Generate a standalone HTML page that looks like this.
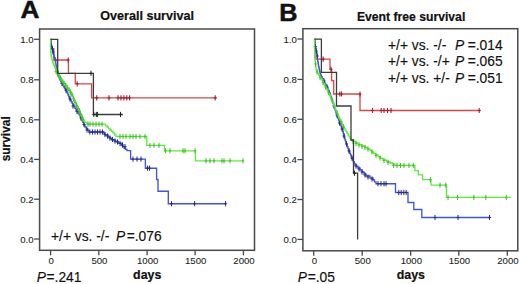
<!DOCTYPE html>
<html><head><meta charset="utf-8"><style>
html,body{margin:0;padding:0;background:#fff;width:520px;height:284px;overflow:hidden}
svg{display:block}
text{font-family:"Liberation Sans",sans-serif;fill:#111}
.big{font-size:24.5px;font-weight:bold;stroke:#111;stroke-width:0.5px}
.ttl2{font-size:12.2px;font-weight:bold;stroke:#111;stroke-width:0.2px}
.ax2{font-size:11.9px;font-weight:bold;stroke:#111;stroke-width:0.2px}
.ttl{font-size:12.6px;font-weight:bold;stroke:#111;stroke-width:0.2px}
.ax{font-size:12.4px;font-weight:bold;stroke:#111;stroke-width:0.2px}
.tk{font-size:9.6px;fill:#1a1a1a;stroke:#1a1a1a;stroke-width:0.08px}
.st{font-size:13.8px;stroke:#111;stroke-width:0.15px}
.st2{font-size:13.5px}
</style></head><body>
<svg width="520" height="284" viewBox="0 0 520 284">
<rect x="39.6" y="29.0" width="214.9" height="221.3" fill="none" stroke="#4a4a4a" stroke-width="1.5"/>
<path d="M34.1,39.3H39.6" stroke="#4a4a4a" stroke-width="1.3"/>
<text x="33.5" y="42.9" class="tk" text-anchor="end">1.0</text>
<path d="M34.1,79.8H39.6" stroke="#4a4a4a" stroke-width="1.3"/>
<text x="33.5" y="83.4" class="tk" text-anchor="end">0.8</text>
<path d="M34.1,119.8H39.6" stroke="#4a4a4a" stroke-width="1.3"/>
<text x="33.5" y="123.4" class="tk" text-anchor="end">0.6</text>
<path d="M34.1,159.4H39.6" stroke="#4a4a4a" stroke-width="1.3"/>
<text x="33.5" y="163.0" class="tk" text-anchor="end">0.4</text>
<path d="M34.1,199.2H39.6" stroke="#4a4a4a" stroke-width="1.3"/>
<text x="33.5" y="202.8" class="tk" text-anchor="end">0.2</text>
<path d="M34.1,239.0H39.6" stroke="#4a4a4a" stroke-width="1.3"/>
<text x="33.5" y="242.6" class="tk" text-anchor="end">0.0</text>
<path d="M50.6,250.3V255.3" stroke="#4a4a4a" stroke-width="1.3"/>
<text x="51.2" y="263.6" class="tk" text-anchor="middle">0</text>
<path d="M98.8,250.3V255.3" stroke="#4a4a4a" stroke-width="1.3"/>
<text x="99.4" y="263.6" class="tk" text-anchor="middle">500</text>
<path d="M147.1,250.3V255.3" stroke="#4a4a4a" stroke-width="1.3"/>
<text x="147.7" y="263.6" class="tk" text-anchor="middle">1000</text>
<path d="M195.1,250.3V255.3" stroke="#4a4a4a" stroke-width="1.3"/>
<text x="195.7" y="263.6" class="tk" text-anchor="middle">1500</text>
<path d="M243.4,250.3V255.3" stroke="#4a4a4a" stroke-width="1.3"/>
<text x="244.0" y="263.6" class="tk" text-anchor="middle">2000</text>
<rect x="302.9" y="28.7" width="214.9" height="222.1" fill="none" stroke="#4a4a4a" stroke-width="1.5"/>
<path d="M297.4,39.0H302.9" stroke="#4a4a4a" stroke-width="1.3"/>
<text x="296.8" y="42.6" class="tk" text-anchor="end">1.0</text>
<path d="M297.4,79.4H302.9" stroke="#4a4a4a" stroke-width="1.3"/>
<text x="296.8" y="83.0" class="tk" text-anchor="end">0.8</text>
<path d="M297.4,119.3H302.9" stroke="#4a4a4a" stroke-width="1.3"/>
<text x="296.8" y="122.9" class="tk" text-anchor="end">0.6</text>
<path d="M297.4,159.6H302.9" stroke="#4a4a4a" stroke-width="1.3"/>
<text x="296.8" y="163.2" class="tk" text-anchor="end">0.4</text>
<path d="M297.4,199.5H302.9" stroke="#4a4a4a" stroke-width="1.3"/>
<text x="296.8" y="203.1" class="tk" text-anchor="end">0.2</text>
<path d="M297.4,239.4H302.9" stroke="#4a4a4a" stroke-width="1.3"/>
<text x="296.8" y="243.0" class="tk" text-anchor="end">0.0</text>
<path d="M313.7,250.8V255.8" stroke="#4a4a4a" stroke-width="1.3"/>
<text x="314.3" y="264.1" class="tk" text-anchor="middle">0</text>
<path d="M362.2,250.8V255.8" stroke="#4a4a4a" stroke-width="1.3"/>
<text x="362.8" y="264.1" class="tk" text-anchor="middle">500</text>
<path d="M410.7,250.8V255.8" stroke="#4a4a4a" stroke-width="1.3"/>
<text x="411.3" y="264.1" class="tk" text-anchor="middle">1000</text>
<path d="M458.8,250.8V255.8" stroke="#4a4a4a" stroke-width="1.3"/>
<text x="459.4" y="264.1" class="tk" text-anchor="middle">1500</text>
<path d="M507.3,250.8V255.8" stroke="#4a4a4a" stroke-width="1.3"/>
<text x="507.9" y="264.1" class="tk" text-anchor="middle">2000</text>
<path d="M50.5,39.3 H51.2 V49 H53.8 V60 H68.4 V73.3 H75.3 V83.8 H91.6 V97.9 H216.8" stroke="#dc4646" stroke-width="1.3" fill="none"/>
<path d="M55.5,57.4V62.6M54.1,60.0H56.9M68.2,57.4V62.6M66.8,60.0H69.6M77.2,81.2V86.4M75.8,83.8H78.6M96.7,95.3V100.5M95.3,97.9H98.1M109.0,95.3V100.5M107.6,97.9H110.4M118.0,95.3V100.5M116.6,97.9H119.4M121.0,95.3V100.5M119.6,97.9H122.4M123.9,95.3V100.5M122.5,97.9H125.3M126.8,95.3V100.5M125.4,97.9H128.2M129.6,95.3V100.5M128.2,97.9H131.0M215.2,95.3V100.5M213.8,97.9H216.6" stroke="#a82030" stroke-width="1.1" fill="none"/>
<path d="M50.5,39.3 H50.7 V40.9 H50.8 V42.4 H51.0 V44.0 H51.4 V45.5 H51.8 V47.0 H52.1 V48.5 H52.5 V50.0 H52.9 V51.5 H53.2 V53.0 H53.6 V54.5 H54.0 V56.0 H54.4 V57.5 H54.8 V59.0 H55.1 V60.5 H55.5 V62.0 H55.8 V63.5 H56.0 V65.0 H56.2 V66.5 H56.5 V68.0 H56.9 V69.5 H57.2 V71.0 H57.6 V72.5 H58.0 V74.0 H58.5 V75.5 H59.0 V77.0 H59.5 V78.5 H60.0 V80.0 H60.8 V81.7 H61.7 V83.3 H62.5 V85.0 H63.5 V86.7 H64.5 V88.3 H65.5 V90.0 H66.3 V91.7 H67.2 V93.3 H68.0 V95.0 H68.8 V96.7 H69.5 V98.3 H70.3 V100.0 H71.2 V101.7 H72.1 V103.3 H73.0 V105.0 H74.0 V106.7 H75.0 V108.3 H76.0 V110.0 H77.0 V111.5 H78.0 V113.0 H79.0 V114.5 H80.0 V116.0 H80.7 V117.6 H81.4 V119.1 H82.1 V120.7 H82.9 V122.3 H83.6 V123.9 H84.3 V125.4 H85.0 V127.0 H86.3 V128.7 H87.7 V130.3 H89.0 V132.0 H103 H104.0 V133.5 H105.0 V135.0 H108.0 V137.0 H110.0 V138.5 H112.0 V140.0 H115.0 V141.5 H118.0 V143.0 H121.0 V145.0 H122.5 V146.5 H124.0 V148.0 H125.5 V149.3 H127.0 V150.6 H130.6 V159.1 H145.4 V168.2 H156.6 V179.5 H158 V191.2 H168.3 V203.7 H226" stroke="#4256d6" stroke-width="1.35" fill="none"/>
<path d="M51.5,43.9V49.1M50.0,46.5H53.0M52.5,46.4V51.6M51.0,49.0H54.0M89.8,129.4V134.6M88.3,132.0H91.3M92.5,129.4V134.6M91.0,132.0H94.0M95.0,129.4V134.6M93.5,132.0H96.5M97.5,129.4V134.6M96.0,132.0H99.0M100.0,129.4V134.6M98.5,132.0H101.5M102.5,129.4V134.6M101.0,132.0H104.0M105.0,131.9V137.1M103.5,134.5H106.5M107.5,133.4V138.6M106.0,136.0H109.0M110.0,135.4V140.6M108.5,138.0H111.5M112.5,136.9V142.1M111.0,139.5H114.0M115.0,138.4V143.6M113.5,141.0H116.5M117.5,139.4V144.6M116.0,142.0H119.0M120.0,140.9V146.1M118.5,143.5H121.5M122.5,142.4V147.6M121.0,145.0H124.0M125.0,143.9V149.1M123.5,146.5H126.5M133.0,156.5V161.7M131.5,159.1H134.5M137.0,156.5V161.7M135.5,159.1H138.5M141.0,156.5V161.7M139.5,159.1H142.5M147.5,165.6V170.8M146.0,168.2H149.0M149.5,165.6V170.8M148.0,168.2H151.0M171.5,201.1V206.3M170.0,203.7H173.0M194.6,201.1V206.3M193.1,203.7H196.1M225.6,201.1V206.3M224.1,203.7H227.1M53.0,49.4V54.6M51.5,52.0H54.5M57.5,69.4V74.6M56.0,72.0H59.0M62.0,80.9V86.1M60.5,83.5H63.5M66.0,87.4V92.6M64.5,90.0H67.5M70.0,96.4V101.6M68.5,99.0H71.5M73.0,103.4V108.6M71.5,106.0H74.5M77.0,108.9V114.1M75.5,111.5H78.5M81.0,115.4V120.6M79.5,118.0H82.5M84.0,121.9V127.1M82.5,124.5H85.5M87.0,127.4V132.6M85.5,130.0H88.5" stroke="#262a8a" stroke-width="1.0" fill="none"/>
<path d="M50.5,39.3 L50.5,48.0 H50.6 V49.8 H50.8 V51.5 H50.9 V53.2 H51.0 V55.0 H51.4 V56.8 H51.8 V58.5 H52.1 V60.2 H52.5 V62.0 H53.1 V63.5 H53.8 V65.0 H54.4 V66.5 H55.0 V68.0 H55.8 V70.0 H56.5 V72.0 H57.8 V74.0 H59.0 V76.0 H60.1 V78.0 H61.3 V80.0 H62.9 V82.0 H64.5 V84.0 H66.0 V86.0 H67.5 V88.0 H69.0 V90.0 H70.5 V92.0 H71.5 V94.0 H72.5 V96.0 H73.2 V98.0 H74.0 V100.0 H74.8 V101.7 H75.7 V103.3 H76.5 V105.0 H77.3 V106.7 H78.2 V108.3 H79.0 V110.0 H79.7 V111.7 H80.3 V113.3 H81.0 V115.0 H81.7 V116.7 H82.3 V118.3 H83.0 V120.0 H84.0 V121.2 H85.0 V122.5 H87.0 V124.2 H104 H105.5 V125.6 H107.0 V127.0 H108.5 V128.5 H110.0 V130.0 H111.5 V131.5 H113.0 V133.0 H114.5 V134.8 H116.0 V136.5 H146.8 V145.4 H164.4 V150.8 H195.5 V160.8 H243" stroke="#5cec3c" stroke-width="1.3" fill="none"/>
<path d="M88.0,121.6V126.8M86.8,124.2H89.2M90.0,121.6V126.8M88.8,124.2H91.2M93.0,121.6V126.8M91.8,124.2H94.2M96.0,121.6V126.8M94.8,124.2H97.2M99.0,121.6V126.8M97.8,124.2H100.2M102.0,121.6V126.8M100.8,124.2H103.2M120.0,133.9V139.1M118.8,136.5H121.2M123.0,133.9V139.1M121.8,136.5H124.2M126.0,133.9V139.1M124.8,136.5H127.2M130.0,133.9V139.1M128.8,136.5H131.2M133.0,133.9V139.1M131.8,136.5H134.2M136.0,133.9V139.1M134.8,136.5H137.2M140.0,133.9V139.1M138.8,136.5H141.2M145.0,133.9V139.1M143.8,136.5H146.2M150.0,142.8V148.0M148.8,145.4H151.2M154.0,142.8V148.0M152.8,145.4H155.2M159.0,142.8V148.0M157.8,145.4H160.2M165.5,148.2V153.4M164.3,150.8H166.7M170.0,148.2V153.4M168.8,150.8H171.2M183.0,148.2V153.4M181.8,150.8H184.2M185.0,148.2V153.4M183.8,150.8H186.2M195.0,148.2V153.4M193.8,150.8H196.2M206.0,158.2V163.4M204.8,160.8H207.2M210.0,158.2V163.4M208.8,160.8H211.2M214.0,158.2V163.4M212.8,160.8H215.2M222.0,158.2V163.4M220.8,160.8H223.2M224.0,158.2V163.4M222.8,160.8H225.2M230.0,158.2V163.4M228.8,160.8H231.2M243.0,158.2V163.4M241.8,160.8H244.2M56.0,68.9V74.1M54.8,71.5H57.2M57.5,71.4V76.6M56.3,74.0H58.7M59.0,73.4V78.6M57.8,76.0H60.2M60.5,75.9V81.1M59.3,78.5H61.7M62.0,78.4V83.6M60.8,81.0H63.2M63.8,80.9V86.1M62.6,83.5H65.0M65.5,82.9V88.1M64.3,85.5H66.7M67.3,85.4V90.6M66.1,88.0H68.5M69.0,87.9V93.1M67.8,90.5H70.2M70.6,90.4V95.6M69.4,93.0H71.8M72.0,92.4V97.6M70.8,95.0H73.2M73.5,96.4V101.6M72.3,99.0H74.7M75.0,99.9V105.1M73.8,102.5H76.2M76.5,102.9V108.1M75.3,105.5H77.7M78.0,105.9V111.1M76.8,108.5H79.2M79.3,108.4V113.6M78.1,111.0H80.5M80.5,111.4V116.6M79.3,114.0H81.7M82.0,114.4V119.6M80.8,117.0H83.2M83.0,116.9V122.1M81.8,119.5H84.2" stroke="#46c02c" stroke-width="1.0" fill="none"/>
<path d="M50.5,39.3 H57.7 V73.3 H93.4 V114.5 H122.9" stroke="#3c3c3c" stroke-width="1.3" fill="none"/>
<path d="M91.0,70.7V75.9M89.6,73.3H92.4M93.8,111.9V117.1M92.4,114.5H95.2M96.3,111.9V117.1M94.9,114.5H97.7M97.4,111.9V117.1M96.0,114.5H98.8M120.5,111.9V117.1M119.1,114.5H121.9" stroke="#222222" stroke-width="1.0" fill="none"/>
<path d="M314.5,39.2 H315 V59.1 H330 V69.4 H331.6 V80.6 H333.7 V94 H360 V110.5 H480.6" stroke="#dc4646" stroke-width="1.3" fill="none"/>
<path d="M323.2,56.5V61.7M321.8,59.1H324.6M331.0,66.8V72.0M329.6,69.4H332.4M339.9,91.4V96.6M338.5,94.0H341.3M341.5,91.4V96.6M340.1,94.0H342.9M360.0,91.4V96.6M358.6,94.0H361.4M372.5,107.9V113.1M371.1,110.5H373.9M381.2,107.9V113.1M379.8,110.5H382.6M384.0,107.9V113.1M382.6,110.5H385.4M387.5,107.9V113.1M386.1,110.5H388.9M391.0,107.9V113.1M389.6,110.5H392.4M479.2,107.9V113.1M477.8,110.5H480.6" stroke="#a82030" stroke-width="1.1" fill="none"/>
<path d="M314.5,39.2 H314.6 V40.7 H314.8 V42.1 H314.9 V43.5 H315.0 V45.0 H315.3 V46.7 H315.7 V48.3 H316.0 V50.0 H316.3 V51.7 H316.7 V53.3 H317.0 V55.0 H317.2 V56.7 H317.4 V58.3 H317.6 V60.0 H317.8 V61.7 H318.1 V63.3 H318.3 V65.0 H318.6 V66.7 H319.0 V68.3 H319.3 V70.0 H319.7 V71.7 H320.1 V73.3 H320.5 V75.0 H321.3 V76.7 H322.2 V78.3 H323.0 V80.0 H323.8 V81.5 H324.5 V83.0 H325.2 V84.5 H326.0 V86.0 H327.0 V88.0 H328.0 V90.0 H328.7 V91.7 H329.3 V93.3 H330.0 V95.0 H330.7 V96.7 H331.3 V98.3 H332.0 V100.0 H332.5 V101.7 H333.0 V103.3 H333.5 V105.0 H334.0 V106.7 H334.5 V108.3 H335.0 V110.0 H335.6 V111.7 H336.2 V113.3 H336.8 V115.0 H337.3 V116.7 H337.9 V118.3 H338.5 V120.0 H339.2 V121.7 H339.8 V123.3 H340.5 V125.0 H341.2 V126.7 H341.8 V128.3 H342.5 V130.0 H342.9 V131.7 H343.3 V133.3 H343.8 V135.0 H344.2 V136.7 H344.6 V138.3 H345.0 V140.0 H345.6 V141.7 H346.2 V143.3 H346.8 V145.0 H347.3 V146.7 H347.9 V148.3 H348.5 V150.0 H349.2 V151.7 H349.8 V153.3 H350.5 V155.0 H351.2 V156.7 H351.8 V158.3 H352.5 V160.0 H353.3 V161.7 H354.2 V163.3 H355.0 V165.0 H356.5 V166.5 H358.0 V168.0 H360.0 V170.0 H362.0 V172.0 H364.0 V174.0 H366.0 V176.0 H370.0 V178.0 H373.0 V180.0 H374.5 V181.8 H376.0 V183.7 H395.5 V192.5 H408 V202.5 H413.8 V209.5 H421.8 V217.5 H490" stroke="#4256d6" stroke-width="1.35" fill="none"/>
<path d="M315.3,43.9V49.1M313.8,46.5H316.8M316.2,48.4V53.6M314.7,51.0H317.7M317.2,53.4V58.6M315.7,56.0H318.7M398.8,189.9V195.1M397.3,192.5H400.3M401.2,189.9V195.1M399.7,192.5H402.7M403.8,189.9V195.1M402.3,192.5H405.3M406.2,189.9V195.1M404.7,192.5H407.7M435.0,214.9V220.1M433.5,217.5H436.5M458.0,214.9V220.1M456.5,217.5H459.5M489.5,214.9V220.1M488.0,217.5H491.0M324.0,78.4V83.6M322.5,81.0H325.5M327.0,84.4V89.6M325.5,87.0H328.5M329.5,90.4V95.6M328.0,93.0H331.0M334.0,103.4V108.6M332.5,106.0H335.5M337.0,112.4V117.6M335.5,115.0H338.5M339.5,120.4V125.6M338.0,123.0H341.0M342.0,126.4V131.6M340.5,129.0H343.5M344.0,133.4V138.6M342.5,136.0H345.5M346.5,141.4V146.6M345.0,144.0H348.0M349.0,148.4V153.6M347.5,151.0H350.5M352.0,155.4V160.6M350.5,158.0H353.5M356.0,163.4V168.6M354.5,166.0H357.5M359.0,166.4V171.6M357.5,169.0H360.5M362.0,169.4V174.6M360.5,172.0H363.5M365.0,172.4V177.6M363.5,175.0H366.5M368.0,174.4V179.6M366.5,177.0H369.5M372.0,176.4V181.6M370.5,179.0H373.5M378.0,181.1V186.3M376.5,183.7H379.5M381.0,181.1V186.3M379.5,183.7H382.5M384.0,181.1V186.3M382.5,183.7H385.5M386.0,181.1V186.3M384.5,183.7H387.5" stroke="#262a8a" stroke-width="1.0" fill="none"/>
<path d="M314.5,39.2 L314.5,50.0 H314.6 V51.7 H314.7 V53.3 H314.8 V55.0 H314.8 V56.7 H314.9 V58.3 H315.0 V60.0 H315.2 V61.7 H315.4 V63.3 H315.6 V65.0 H315.8 V66.7 H316.0 V68.3 H316.2 V70.0 H317.0 V71.7 H317.7 V73.3 H318.5 V75.0 H319.6 V76.7 H320.6 V78.3 H321.7 V80.0 H322.6 V81.7 H323.4 V83.3 H324.3 V85.0 H325.2 V86.7 H326.1 V88.3 H327.0 V90.0 H327.9 V91.7 H328.7 V93.3 H329.6 V95.0 H330.2 V96.7 H330.8 V98.3 H331.4 V100.0 H332.2 V101.5 H333.0 V103.0 H333.6 V104.8 H334.2 V106.5 H334.9 V108.2 H335.5 V110.0 H336.2 V111.7 H337.0 V113.3 H337.8 V115.0 H338.5 V116.7 H339.2 V118.3 H340.0 V120.0 H340.8 V121.7 H341.7 V123.3 H342.5 V125.0 H343.3 V126.7 H344.2 V128.3 H345.0 V130.0 H346.0 V131.7 H347.0 V133.3 H348.0 V135.0 H349.0 V136.7 H350.0 V138.3 H351.0 V140.0 H353.3 V141.5 H355.7 V143.0 H358.0 V144.5 H361.5 V146.0 H365.0 V147.5 H367.5 V149.0 H370.0 V150.5 H371.8 V152.0 H373.7 V153.5 H375.5 V155.0 H378.0 V156.7 H380.5 V158.3 H383.0 V160.0 H386.5 V161.5 H390.0 V163.0 H392.5 V164.2 H395.0 V165.5 H414.9 V170.6 H418.4 V174.8 H422.6 V179.7 H431 V185.2 H446.5 V197.4 H511" stroke="#5cec3c" stroke-width="1.3" fill="none"/>
<path d="M393.5,162.9V168.1M392.3,165.5H394.7M397.0,162.9V168.1M395.8,165.5H398.2M400.5,162.9V168.1M399.3,165.5H401.7M404.0,162.9V168.1M402.8,165.5H405.2M409.0,162.9V168.1M407.8,165.5H410.2M413.3,162.9V168.1M412.1,165.5H414.5M430.4,177.1V182.3M429.2,179.7H431.6M440.0,182.6V187.8M438.8,185.2H441.2M445.8,182.6V187.8M444.6,185.2H447.0M448.0,194.8V200.0M446.8,197.4H449.2M457.5,194.8V200.0M456.3,197.4H458.7M473.8,194.8V200.0M472.6,197.4H475.0M485.8,194.8V200.0M484.6,197.4H487.0M506.3,194.8V200.0M505.1,197.4H507.5M315.5,61.4V66.6M314.3,64.0H316.7M317.0,69.4V74.6M315.8,72.0H318.2M320.0,74.9V80.1M318.8,77.5H321.2M323.0,79.9V85.1M321.8,82.5H324.2M325.5,84.4V89.6M324.3,87.0H326.7M328.5,89.9V95.1M327.3,92.5H329.7M332.0,97.4V102.6M330.8,100.0H333.2M337.0,110.4V115.6M335.8,113.0H338.2M341.0,119.4V124.6M339.8,122.0H342.2M343.5,124.4V129.6M342.3,127.0H344.7M353.0,138.9V144.1M351.8,141.5H354.2M356.0,140.9V146.1M354.8,143.5H357.2M359.0,142.4V147.6M357.8,145.0H360.2M362.0,143.9V149.1M360.8,146.5H363.2M365.0,144.9V150.1M363.8,147.5H366.2M368.0,146.4V151.6M366.8,149.0H369.2M372.0,149.4V154.6M370.8,152.0H373.2M376.0,152.9V158.1M374.8,155.5H377.2M380.0,155.4V160.6M378.8,158.0H381.2M384.0,157.9V163.1M382.8,160.5H385.2M388.0,159.9V165.1M386.8,162.5H389.2" stroke="#46c02c" stroke-width="1.0" fill="none"/>
<path d="M314.5,39.2 H321.4 V72.4 H336.5 V106 H351 V140 H353.5 V173.2 H357.6 V239.4" stroke="#3c3c3c" stroke-width="1.3" fill="none"/>
<path d="M354.5,170.6V175.8M353.1,173.2H355.9" stroke="#222222" stroke-width="1.0" fill="none"/>
<text transform="translate(20.6,18.4) scale(1.07,1)" class="big">A</text>
<text transform="translate(279.3,20.6) scale(1.03,1)" class="big">B</text>
<text x="147.1" y="20.4" class="ttl" text-anchor="middle">Overall survival</text>
<text x="411.1" y="20.9" class="ttl2" text-anchor="middle">Event free survival</text>
<text x="147.2" y="278.9" class="ax" text-anchor="middle">days</text>
<text x="410.9" y="279.1" class="ax" text-anchor="middle">days</text>
<text transform="translate(10.1,138.8) rotate(-90)" class="ax2" text-anchor="middle">survival</text>
<text x="51" y="241.1" class="st">+/+ vs. -/-</text>
<text x="116.1" y="241.1" class="st" font-style="italic">P</text><text x="126.7" y="241.1" class="st">=.076</text>
<text x="36.8" y="281.9" class="st" font-style="italic">P</text><text x="46.5" y="281.9" class="st">=.241</text>
<text x="297.7" y="282.2" class="st" font-style="italic">P</text><text x="307.7" y="282.2" class="st">=.05</text>
<text x="388" y="50.3" class="st">+/+ vs. -/-</text>
<text x="455.1" y="50.3" class="st" font-style="italic">P</text><text x="467.7" y="50.3" class="st">=.014</text>
<text x="388" y="66.4" class="st">+/+ vs. -/+</text>
<text x="455.1" y="66.4" class="st" font-style="italic">P</text><text x="467.7" y="66.4" class="st">=.065</text>
<text x="388" y="82.7" class="st">+/+ vs. +/-</text>
<text x="455.1" y="82.7" class="st" font-style="italic">P</text><text x="467.7" y="82.7" class="st">=.051</text>
</svg>
</body></html>
